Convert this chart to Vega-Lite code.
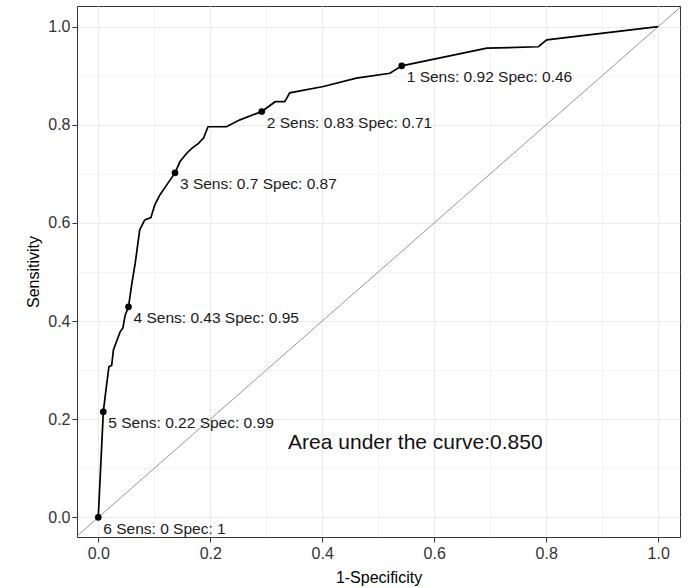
{
  "$schema": "https://vega.github.io/schema/vega-lite/v6.json",
  "width": 603,
  "height": 531,
  "autosize": {"type": "none"},
  "padding": {"left": 77, "top": 6, "right": 9, "bottom": 51},
  "background": "white",
  "config": {
    "view": {"stroke": "#333333", "strokeWidth": 1},
    "font": "Liberation Sans",
    "axis": {
      "domain": false,
      "grid": true,
      "gridColor": "#ebebeb",
      "gridWidth": {"condition": {"test": "round(datum.value*10)%2===0", "value": 1.1}, "value": 0.6},
      "tickOpacity": {"condition": {"test": "round(datum.value*10)%2===0", "value": 1}, "value": 0},
      "tickColor": "#333333",
      "tickSize": 5,
      "tickWidth": 1,
      "labelFont": "Liberation Sans",
      "labelFontSize": 16,
      "labelColor": "#333333",
      "labelExpr": "round(datum.value*10)%2===0 ? format(datum.value,'.1f') : ''",
      "titleFont": "Liberation Sans",
      "titleFontSize": 16,
      "titleFontWeight": "normal",
      "titleColor": "#000000"
    }
  },
  "datasets": {
    "diag": [{"x": -0.05, "y": -0.05}, {"x": 1.05, "y": 1.05}],
    "roc": [
      {"i": 0, "fpr": 0, "tpr": 0},
      {"i": 1, "fpr": 0.009, "tpr": 0.215},
      {"i": 2, "fpr": 0.013, "tpr": 0.253},
      {"i": 3, "fpr": 0.019, "tpr": 0.307},
      {"i": 4, "fpr": 0.024, "tpr": 0.310},
      {"i": 5, "fpr": 0.027, "tpr": 0.341},
      {"i": 6, "fpr": 0.039, "tpr": 0.378},
      {"i": 7, "fpr": 0.044, "tpr": 0.386},
      {"i": 8, "fpr": 0.048, "tpr": 0.412},
      {"i": 9, "fpr": 0.054, "tpr": 0.429},
      {"i": 10, "fpr": 0.060, "tpr": 0.477},
      {"i": 11, "fpr": 0.066, "tpr": 0.518},
      {"i": 12, "fpr": 0.074, "tpr": 0.586},
      {"i": 13, "fpr": 0.083, "tpr": 0.606},
      {"i": 14, "fpr": 0.094, "tpr": 0.611},
      {"i": 15, "fpr": 0.101, "tpr": 0.637},
      {"i": 16, "fpr": 0.110, "tpr": 0.657},
      {"i": 17, "fpr": 0.122, "tpr": 0.677},
      {"i": 18, "fpr": 0.137, "tpr": 0.702},
      {"i": 19, "fpr": 0.146, "tpr": 0.725},
      {"i": 20, "fpr": 0.158, "tpr": 0.742},
      {"i": 21, "fpr": 0.167, "tpr": 0.752},
      {"i": 22, "fpr": 0.179, "tpr": 0.762},
      {"i": 23, "fpr": 0.188, "tpr": 0.773},
      {"i": 24, "fpr": 0.196, "tpr": 0.796},
      {"i": 25, "fpr": 0.229, "tpr": 0.796},
      {"i": 26, "fpr": 0.253, "tpr": 0.810},
      {"i": 27, "fpr": 0.292, "tpr": 0.827},
      {"i": 28, "fpr": 0.316, "tpr": 0.847},
      {"i": 29, "fpr": 0.333, "tpr": 0.847},
      {"i": 30, "fpr": 0.342, "tpr": 0.865},
      {"i": 31, "fpr": 0.402, "tpr": 0.878},
      {"i": 32, "fpr": 0.461, "tpr": 0.895},
      {"i": 33, "fpr": 0.521, "tpr": 0.905},
      {"i": 34, "fpr": 0.542, "tpr": 0.920},
      {"i": 35, "fpr": 0.694, "tpr": 0.956},
      {"i": 36, "fpr": 0.786, "tpr": 0.959},
      {"i": 37, "fpr": 0.801, "tpr": 0.973},
      {"i": 38, "fpr": 1.0, "tpr": 1.0}
    ],
    "cuts": [
      {"fpr": 0.542, "tpr": 0.920, "label": "1 Sens: 0.92 Spec: 0.46"},
      {"fpr": 0.292, "tpr": 0.827, "label": "2 Sens: 0.83 Spec: 0.71"},
      {"fpr": 0.137, "tpr": 0.702, "label": "3 Sens: 0.7 Spec: 0.87"},
      {"fpr": 0.054, "tpr": 0.429, "label": "4 Sens: 0.43 Spec: 0.95"},
      {"fpr": 0.009, "tpr": 0.215, "label": "5 Sens: 0.22 Spec: 0.99"},
      {"fpr": 0.0, "tpr": 0.0, "label": "6 Sens: 0 Spec: 1"}
    ],
    "auc": [{"fpr": 0.339, "tpr": 0.151, "label": "Area under the curve:0.850"}]
  },
  "encoding": {
    "x": {
      "field": "fpr",
      "type": "quantitative",
      "scale": {"domain": [-0.038, 1.039], "nice": false, "zero": false},
      "axis": {"values": [0, 0.1, 0.2, 0.3, 0.4, 0.5, 0.6, 0.7, 0.8, 0.9, 1.0], "title": "1-Specificity", "labelPadding": 3, "titlePadding": 8}
    },
    "y": {
      "field": "tpr",
      "type": "quantitative",
      "scale": {"domain": [-0.04, 1.042], "nice": false, "zero": false},
      "axis": {"values": [0, 0.1, 0.2, 0.3, 0.4, 0.5, 0.6, 0.7, 0.8, 0.9, 1.0], "title": "Sensitivity", "labelPadding": 2, "titlePadding": 6}
    }
  },
  "layer": [
    {
      "data": {"name": "diag"},
      "mark": {"type": "line", "color": "#7a7a7a", "strokeWidth": 0.8, "clip": true},
      "encoding": {"x": {"field": "x", "type": "quantitative"}, "y": {"field": "y", "type": "quantitative"}}
    },
    {
      "data": {"name": "roc"},
      "mark": {"type": "line", "color": "#000000", "strokeWidth": 1.7},
      "encoding": {"order": {"field": "i", "type": "quantitative"}}
    },
    {
      "data": {"name": "cuts"},
      "mark": {"type": "point", "filled": true, "color": "#000000", "size": 45, "opacity": 1}
    },
    {
      "data": {"name": "cuts"},
      "mark": {"type": "text", "align": "left", "baseline": "middle", "dx": 5, "dy": 11.5, "fontSize": 15.5, "color": "#1a1a1a", "font": "Liberation Sans"},
      "encoding": {"text": {"field": "label", "type": "nominal"}}
    },
    {
      "data": {"name": "auc"},
      "mark": {"type": "text", "align": "left", "baseline": "middle", "fontSize": 21, "color": "#111111", "font": "Liberation Sans"},
      "encoding": {"text": {"field": "label", "type": "nominal"}}
    }
  ]
}
